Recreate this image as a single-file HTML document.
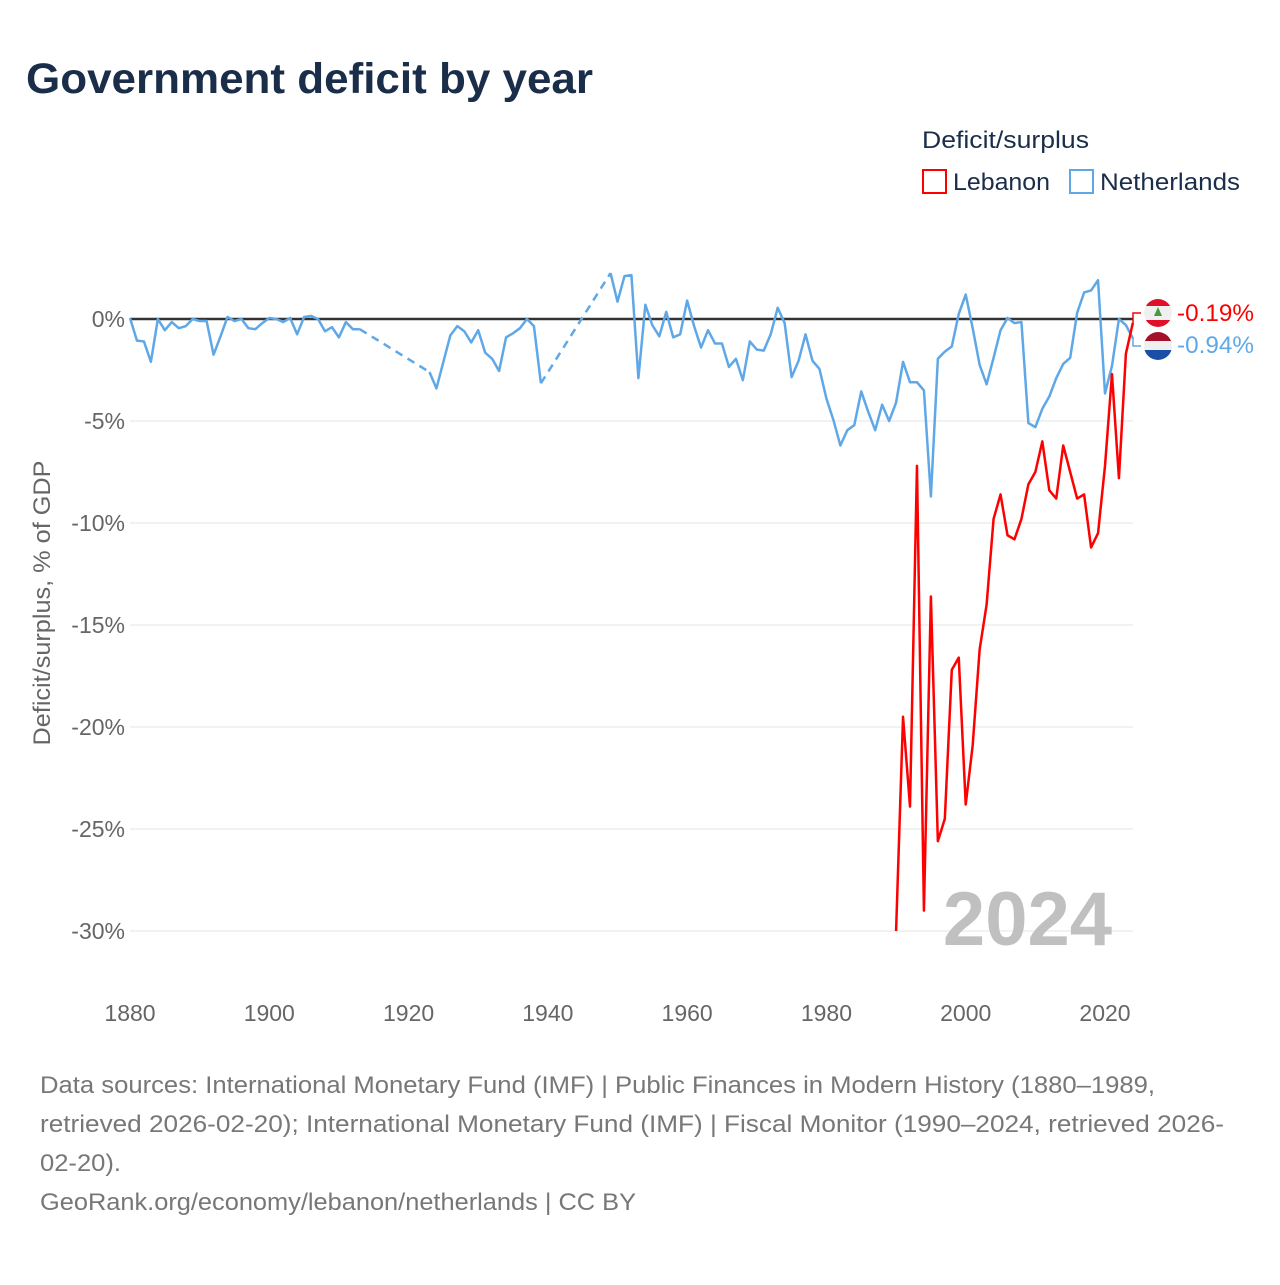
<!DOCTYPE html>
<html><head><meta charset="utf-8"><style>
body{margin:0;background:#fff;font-family:"Liberation Sans",sans-serif}
</style></head><body>
<svg id="chart" width="1280" height="1280" viewBox="0 0 1280 1280" xmlns="http://www.w3.org/2000/svg" font-family="Liberation Sans, sans-serif">
<text x="26" y="93" font-size="43" font-weight="bold" fill="#1a2e4a" textLength="567" lengthAdjust="spacingAndGlyphs">Government deficit by year</text>
<text x="922" y="148" font-size="24" fill="#1a2e4a" textLength="167" lengthAdjust="spacingAndGlyphs">Deficit/surplus</text>
<g><rect x="923" y="170" width="23" height="23" fill="none" stroke="#f00" stroke-width="2"/><text x="953" y="190" font-size="24" fill="#1a2e4a" textLength="97" lengthAdjust="spacingAndGlyphs">Lebanon</text></g>
<g><rect x="1070" y="170" width="23" height="23" fill="none" stroke="#5fa8e8" stroke-width="2"/><text x="1100" y="190" font-size="24" fill="#1a2e4a" textLength="140" lengthAdjust="spacingAndGlyphs">Netherlands</text></g>
<g id="grid"></g><g id="yticks"></g><g id="xticks"></g>
<text x="1112" y="945" text-anchor="end" font-size="76" font-weight="bold" fill="#c0c0c0">2024</text>
<text transform="translate(50,603) rotate(-90)" text-anchor="middle" font-size="24" fill="#666" textLength="285" lengthAdjust="spacingAndGlyphs">Deficit/surplus, % of GDP</text>
<g id="series"></g>
<g>
<path d="M1133 323 V313 H1141" fill="none" stroke="#f00" stroke-width="1.5"/>
<path d="M1133 337 V346 H1141" fill="none" stroke="#5fa8e8" stroke-width="1.5"/>
<clipPath id="c1"><circle cx="1158" cy="313" r="14"/></clipPath>
<g clip-path="url(#c1)"><rect x="1144" y="299" width="28" height="28" fill="#f0f0f0"/><rect x="1144" y="299" width="28" height="7" fill="#e0102a"/><rect x="1144" y="320" width="28" height="7" fill="#e0102a"/><path d="M1158 307 L1162 316 H1154Z" fill="#4a9a3a"/></g>
<clipPath id="c2"><circle cx="1158" cy="346" r="14"/></clipPath>
<g clip-path="url(#c2)"><rect x="1144" y="332" width="28" height="10" fill="#a4112a"/><rect x="1144" y="341" width="28" height="10" fill="#f0f0f0"/><rect x="1144" y="350" width="28" height="10" fill="#1a4fa8"/></g>
<text x="1177" y="321" font-size="24" fill="#f00" textLength="77" lengthAdjust="spacingAndGlyphs">-0.19%</text>
<text x="1177" y="353" font-size="24" fill="#5fa8e8" textLength="77" lengthAdjust="spacingAndGlyphs">-0.94%</text>
</g>
<g font-size="24" fill="#777">
<text x="40" y="1093" textLength="1115" lengthAdjust="spacingAndGlyphs">Data sources: International Monetary Fund (IMF) | Public Finances in Modern History (1880–1989,</text>
<text x="40" y="1132" textLength="1184" lengthAdjust="spacingAndGlyphs">retrieved 2026-02-20); International Monetary Fund (IMF) | Fiscal Monitor (1990–2024, retrieved 2026-</text>
<text x="40" y="1171" textLength="81" lengthAdjust="spacingAndGlyphs">02-20).</text>
<text x="40" y="1210" textLength="596" lengthAdjust="spacingAndGlyphs">GeoRank.org/economy/lebanon/netherlands | CC BY</text>
</g>
</svg>
<script>
const yTicks=[0,-5,-10,-15,-20,-25,-30];
const xTicks=[1880,1900,1920,1940,1960,1980,2000,2020];
const lebYears=[];for(let y=1990;y<=2024;y++)lebYears.push(y);
const lebValues=[-30.0,-19.5,-23.9,-7.2,-29.0,-13.6,-25.6,-24.5,-17.2,-16.6,-23.8,-20.9,-16.2,-14.0,-9.8,-8.6,-10.6,-10.8,-9.8,-8.1,-7.5,-6.0,-8.4,-8.8,-6.2,-7.5,-8.8,-8.6,-11.2,-10.5,-7.2,-2.7,-7.8,-1.7,-0.19];
const nldYears=[];for(let y=1880;y<=2024;y++)nldYears.push(y);
const nldValues=[0.05,-1.06,-1.1,-2.1,0.0,-0.55,-0.15,-0.45,-0.35,0.0,-0.1,-0.1,-1.75,-0.85,0.1,-0.1,0.0,-0.45,-0.5,-0.2,0.05,0.0,-0.15,0.05,-0.75,0.1,0.15,0.0,-0.6,-0.4,-0.9,-0.15,-0.5,-0.5,
null,null,null,null,null,null,null,null,null,
-2.6,-3.4,-2.1,-0.8,-0.35,-0.6,-1.15,-0.55,-1.65,-1.95,-2.55,-0.9,-0.7,-0.45,0.0,-0.35,-3.15,
null,null,null,null,null,null,null,null,null,
2.25,0.85,2.1,2.15,-2.9,0.7,-0.3,-0.85,0.35,-0.9,-0.75,0.9,-0.35,-1.4,-0.55,-1.2,-1.2,-2.35,-1.95,-3.0,-1.1,-1.5,-1.55,-0.75,0.55,-0.2,-2.85,-2.05,-0.75,-2.05,-2.45,-3.9,-4.95,-6.2,-5.45,-5.2,-3.55,-4.55,-5.45,-4.2,-5.0,
-4.1,-2.1,-3.1,-3.1,-3.5,-8.7,-1.95,-1.6,-1.35,0.25,1.2,-0.45,-2.25,-3.2,-1.9,-0.55,0.05,-0.2,-0.15,-5.1,-5.3,-4.4,-3.8,-2.9,-2.2,-1.9,0.3,1.3,1.4,1.9,-3.65,-2.3,0.0,-0.3,-0.94];
const NS='http://www.w3.org/2000/svg';
const X=y=>130+(y-1880)*(1105-130)/140;
const Y=v=>319-v*20.4;
function mk(t,a,p){const e=document.createElementNS(NS,t);for(const k in a)e.setAttribute(k,a[k]);document.getElementById(p).appendChild(e);return e;}
yTicks.forEach(v=>{
 if(v!==0){const l=mk('line',{x1:130,x2:1133,y1:Y(v),y2:Y(v),stroke:'#e6e6e6','stroke-width':1},'grid');
 
 }
 const t=mk('text',{x:125,y:Y(v)+8,'text-anchor':'end','font-size':23,fill:'#666'},'yticks');
 t.textContent=v+'%';
 
 
});
xTicks.forEach(v=>{
 const t=mk('text',{x:X(v),y:1021,'text-anchor':'middle','font-size':23,fill:'#666'},'xticks');
 t.textContent=v;
 
 
});
const zl=mk('line',{x1:130,x2:1133,y1:Y(0),y2:Y(0),stroke:'#333','stroke-width':2.5},'grid');


function drawSeries(years,vals,color,name){
 let last=null,d='',dash='';
 for(let i=0;i<years.length;i++){
  const v=vals[i];if(v===null)continue;
  const p=[X(years[i]),Y(v)];
  if(last&&years[i]-last.yr>1){dash+=`M${last.p[0]} ${last.p[1]}L${p[0]} ${p[1]}`;d+=`M${p[0]} ${p[1]}`;}
  else d+=(d===''?'M':'L')+p[0]+' '+p[1];
  last={yr:years[i],p};
 }
 const s=mk('path',{d,fill:'none',stroke:color,'stroke-width':2.5,'stroke-linejoin':'round'},'series');
 
 
 if(dash){const g=mk('path',{d:dash,fill:'none',stroke:color,'stroke-width':2.5,'stroke-dasharray':'8 6'},'series');
 
 }
}
drawSeries(nldYears,nldValues,'#5fa8e8','netherlands');
drawSeries(lebYears,lebValues,'#ff0000','lebanon');
</script>
</body></html>
